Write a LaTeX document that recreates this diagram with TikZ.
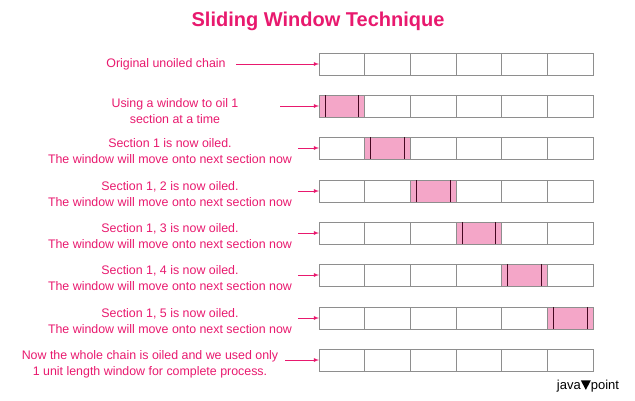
\documentclass[tikz,border=0pt]{standalone}
\usepackage{fontspec}
\setmainfont{Liberation Sans}
\definecolor{pk}{HTML}{E8196E}
\definecolor{fillpk}{HTML}{F4A6C8}
\definecolor{edge}{HTML}{8E8E8E}
\begin{document}
\begin{tikzpicture}[x=1pt,y=-1pt,
  lbl/.style={text=pk,font=\fontsize{12.4}{16}\selectfont,align=center,inner sep=0pt},
  arr/.style={->,pk,line width=0.8pt,>={latex}},
  cellbox/.style={draw=edge,line width=0.8pt,minimum width=45.7pt,minimum height=22pt,inner sep=0pt,outer sep=0pt}]
\useasboundingbox (0,0) rectangle (635,400);
\node[text=pk,font=\bfseries\fontsize{20}{22}\selectfont] (title) at (318,21) {Sliding Window Technique};
\foreach \r/\y/\w in {1/64/0,2/106/1,3/148/2,4/191/3,5/233/4,6/275/5,7/318/6,8/360/0}{
  \foreach \c in {1,...,6}{
    \ifnum\c=\w
      \node[cellbox,fill=fillpk] (c\r-\c) at ({319+45.7*(\c-0.5)},\y) {};
      \draw[black!70!pk,line width=0.8pt] ([xshift=6pt]c\r-\c.north west) -- ([xshift=6pt]c\r-\c.south west);
      \draw[black!70!pk,line width=0.8pt] ([xshift=-6pt]c\r-\c.north east) -- ([xshift=-6pt]c\r-\c.south east);
    \else
      \node[cellbox] (c\r-\c) at ({319+45.7*(\c-0.5)},\y) {};
    \fi
  }
}
\node[lbl] (l1) at (166,64) {Original unoiled chain};
\node[lbl] (l2) at (175,111) {Using a window to oil 1\\section at a time};
\node[lbl] (l3) at (170,151) {Section 1 is now oiled.\\The window will move onto next section now};
\node[lbl] (l4) at (170,194) {Section 1, 2 is now oiled.\\The window will move onto next section now};
\node[lbl] (l5) at (170,236) {Section 1, 3 is now oiled.\\The window will move onto next section now};
\node[lbl] (l6) at (170,278) {Section 1, 4 is now oiled.\\The window will move onto next section now};
\node[lbl] (l7) at (170,321) {Section 1, 5 is now oiled.\\The window will move onto next section now};
\node[lbl] (l8) at (150,364) {Now the whole chain is oiled and we used only\\1 unit length window for complete process.};
\coordinate (a1) at (236,64); \coordinate (a2) at (280,106);
\coordinate (a3) at (298,148); \coordinate (a4) at (298,191);
\coordinate (a5) at (298,233); \coordinate (a6) at (298,275);
\coordinate (a7) at (298,318); \coordinate (a8) at (285,360);
\foreach \r in {1,...,8}{\draw[arr] (a\r) -- (c\r-1.west);}
\node[font=\fontsize{13}{14}\selectfont,inner sep=0pt] (logo) at (588,386) {java\tikz[baseline=0pt]\fill (0,9pt)--(10pt,9pt)--(5pt,-0.5pt)--cycle;point};
\end{tikzpicture}
\end{document}
